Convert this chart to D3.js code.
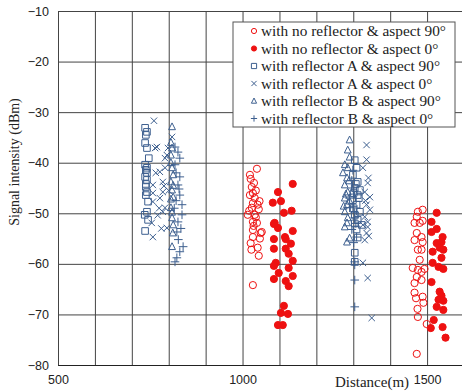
<!DOCTYPE html>
<html>
<head>
<meta charset="utf-8">
<script src="https://cdn.jsdelivr.net/npm/d3@7"></script>
<style>
body{margin:0;background:#fff;}
svg{display:block;}
</style>
</head>
<body>
<div id="chart"></div>
<script>
// tick values
var xTicks=[500,600,700,800,900,1000,1100,1200,1300,1400,1500,1600];
var xLabels=[500,1000,1500];
var yTicks=[-10,-20,-30,-40,-50,-60,-70,-80];

var legendNames=["with no reflector & aspect 90°","with no reflector & aspect 0°",
	"with reflector A & aspect 90°","with reflector A & aspect 0°",
	"with reflector B & aspect 90°","with reflector B & aspect 0°"];

// [distance m, signal dBm]
var noRef90=[[1039,-41.2],[1020,-42.4],[1022,-43.2],[1025,-44.8],[1028,-46.0],[1020,-46.4],[1033,-47.0],
	[1028,-48.0],[1041,-48.3],[1025,-48.9],[1014,-50.3],[1033,-50.3],[1028,-51.7],[1039,-51.9],[1028,-53.3],
	[1052,-53.7],[1028,-54.7],[1022,-55.9],[1041,-56.8],[1044,-58.4],[1028,-64.2],[1049,-53.9],[1031,-44.0],
	[1036,-45.5],[1046,-47.6],[1018,-49.5],[1036,-50.8],[1044,-49.2],[1030,-52.5],[1047,-55.0],[1024,-57.2],
	[1488,-49.3],[1475,-49.7],[1472,-50.7],[1466,-51.9],[1480,-51.9],[1488,-51.5],[1472,-53.9],[1485,-54.7],
	[1466,-55.3],[1488,-55.7],[1475,-57.2],[1485,-57.2],[1480,-59.2],[1461,-60.8],[1475,-61.2],[1485,-61.6],
	[1493,-61.0],[1472,-62.6],[1485,-63.2],[1466,-63.8],[1466,-65.7],[1488,-66.5],[1470,-66.8],[1490,-67.7],
	[1474,-68.9],[1475,-70.5],[1499,-71.9],[1472,-77.8]];
var noRef0=[[1136,-44.2],[1096,-45.8],[1082,-47.9],[1104,-47.6],[1133,-49.5],[1112,-49.9],[1087,-51.9],
	[1096,-52.9],[1136,-53.5],[1115,-54.7],[1085,-52.1],[1085,-55.1],[1117,-55.1],[1131,-56.0],[1085,-57.0],
	[1117,-57.0],[1125,-58.0],[1136,-59.4],[1090,-59.8],[1085,-60.4],[1125,-60.8],[1098,-61.8],[1136,-62.4],
	[1085,-63.0],[1117,-63.4],[1125,-64.4],[1112,-68.3],[1104,-69.7],[1123,-69.9],[1096,-72.1],[1109,-72.1],
	[1526,-49.9],[1512,-51.7],[1526,-53.1],[1512,-53.7],[1542,-54.7],[1526,-55.9],[1539,-55.7],[1534,-56.8],
	[1515,-57.6],[1544,-57.2],[1539,-58.8],[1515,-59.8],[1531,-60.6],[1544,-61.0],[1512,-63.6],[1534,-65.5],
	[1539,-66.3],[1531,-67.1],[1544,-67.3],[1526,-68.5],[1544,-69.1],[1518,-71.1],[1542,-72.5],[1510,-72.7],
	[1550,-74.6]];
var refA90=[[736,-33.1],[741,-33.9],[738,-34.5],[736,-36.1],[741,-37.1],[746,-39.1],[736,-40.4],[738,-41.4],
	[741,-42.0],[736,-42.8],[741,-43.4],[738,-44.8],[741,-45.8],[738,-46.4],[744,-47.7],[741,-49.7],[735,-50.3],
	[744,-51.3],[736,-53.5],[738,-44.2],[741,-41.0],
	[1304,-39.5],[1309,-41.0],[1299,-42.4],[1312,-43.8],[1304,-45.0],[1312,-46.4],[1299,-47.4],[1309,-48.3],
	[1318,-49.7],[1304,-50.3],[1312,-51.3],[1323,-52.3],[1304,-57.8],[1304,-59.6],[1307,-44.2],[1301,-46.0],
	[1315,-47.0],[1301,-49.0],[1309,-53.2],[1312,-54.8],[1304,-52.0],[1318,-45.4]];
var refA0=[[760,-31.7],[763,-37.1],[768,-36.9],[790,-39.1],[790,-41.0],[776,-41.8],[757,-44.4],[757,-46.0],
	[757,-47.7],[784,-43.8],[784,-45.8],[790,-48.9],[784,-49.7],[754,-51.9],[757,-54.7],[795,-52.9],[809,-34.9],
	[798,-37.1],[795,-38.5],[776,-47.0],[770,-50.4],[780,-53.0],[787,-44.6],[800,-45.5],[765,-42.0],[774,-49.0],
	[1336,-36.5],[1336,-39.4],[1326,-41.0],[1339,-44.0],[1331,-45.8],[1345,-46.8],[1336,-48.3],[1345,-49.3],
	[1331,-50.7],[1339,-51.7],[1326,-52.3],[1331,-55.3],[1326,-59.8],[1339,-62.8],[1339,-52.7],[1336,-53.9],
	[1350,-70.7],[1341,-43.0],[1333,-47.5],[1342,-54.5]];
var refB90=[[809,-32.9],[809,-37.1],[806,-38.5],[809,-41.0],[812,-42.4],[806,-43.8],[809,-45.4],[812,-46.8],
	[806,-48.9],[809,-50.9],[812,-52.3],[809,-56.6],[806,-40.0],[812,-44.5],[806,-47.2],[811,-53.9],[809,-49.8],
	[806,-36.0],
	[1290,-35.5],[1285,-37.5],[1290,-38.9],[1277,-40.4],[1285,-41.0],[1272,-42.0],[1283,-43.0],[1277,-44.4],
	[1285,-45.8],[1277,-47.0],[1283,-48.3],[1277,-49.7],[1285,-50.9],[1283,-51.9],[1277,-52.7],[1290,-54.9],
	[1283,-55.7],[1280,-46.2],[1288,-43.6],[1274,-48.6],[1290,-47.6]];
var refB0=[[817,-36.9],[825,-37.9],[830,-39.1],[817,-40.4],[830,-42.8],[825,-44.4],[830,-46.4],[836,-48.3],
	[836,-50.3],[825,-51.7],[822,-53.7],[839,-56.6],[830,-57.6],[822,-58.8],[817,-59.6],[820,-42.0],[828,-45.2],
	[820,-47.5],[833,-53.0],[826,-55.2],[815,-49.0],
	[1299,-45.0],[1290,-47.0],[1290,-48.9],[1304,-50.9],[1299,-48.7],[1304,-49.9],[1309,-54.7],[1304,-59.6],
	[1304,-60.2],[1304,-63.2],[1304,-68.5],[1296,-43.5],[1301,-46.2],[1307,-52.0],[1296,-53.2],[1301,-55.8],
	[1299,-41.5]];

var red="#ee1111",blue="#3d5f8f";
var W=462,H=392;
var margin={left:58,top:11};
var plotW=406,plotH=354;

var svg=d3.select("#chart").append("svg")
	.attr("width",W)
	.attr("height",H);

var x=d3.scaleLinear().domain([500,1600]).range([margin.left,margin.left+plotW]);
var y=d3.scaleLinear().domain([-80,-10]).range([margin.top+plotH,margin.top]);

// grid + axes
svg.append("g")
	.attr("class","yaxis")
	.attr("transform","translate("+margin.left+",0)")
	.call(d3.axisLeft(y).tickValues(yTicks).tickSize(-plotW).tickPadding(9));
svg.append("g")
	.attr("class","xaxis")
	.attr("transform","translate(0,"+(margin.top+plotH)+")")
	.call(d3.axisBottom(x).tickValues(xTicks).tickSize(-plotH).tickPadding(10)
		.tickFormat(function(d){return xLabels.indexOf(d)>=0?d:"";}));

svg.selectAll(".tick line").attr("stroke","#444").attr("stroke-width",1);
svg.selectAll(".domain").attr("stroke","#222");
svg.selectAll(".tick text")
	.attr("fill","#222")
	.style("font-family","'Liberation Sans',Arial,sans-serif")
	.style("font-size","12.5px");

// markers
function shapePath(kind,s){
	if(kind=="circle")
		return "M"+(-s)+",0A"+s+","+s+" 0 1,0 "+s+",0A"+s+","+s+" 0 1,0 "+(-s)+",0Z";
	if(kind=="square")
		return "M"+(-s)+","+(-s)+"H"+s+"V"+s+"H"+(-s)+"Z";
	if(kind=="triangle")
		return "M0,"+(-s*1.15)+"L"+s+","+(s*0.85)+"L"+(-s)+","+(s*0.85)+"Z";
	if(kind=="cross")
		return "M"+(-s)+","+(-s)+"L"+s+","+s+"M"+(-s)+","+s+"L"+s+","+(-s);
	return "M"+(-s*1.2)+",0H"+(s*1.2)+"M0,"+(-s*1.2)+"V"+(s*1.2);
}

var series=[
	{data:noRef90,kind:"circle",color:red,fill:"none",size:3.6},
	{data:noRef0,kind:"circle",color:red,fill:red,size:3.6},
	{data:refA90,kind:"square",color:blue,fill:"none",size:3.3},
	{data:refA0,kind:"cross",color:blue,fill:"none",size:3.2},
	{data:refB90,kind:"triangle",color:blue,fill:"none",size:3.4},
	{data:refB0,kind:"plus",color:blue,fill:"none",size:3.6}
];

series.forEach(function(s){
	svg.append("g")
		.selectAll("path")
		.data(s.data)
		.enter()
		.append("path")
		.attr("transform",function(d){return "translate("+x(d[0])+","+y(d[1])+")";})
		.attr("d",shapePath(s.kind,s.size))
		.attr("fill",s.fill)
		.attr("stroke",s.color)
		.attr("stroke-width",1);
});

// legend
var legend=svg.append("g").attr("transform","translate(233,22)");
legend.append("rect")
	.attr("width",222)
	.attr("height",105)
	.attr("fill","#fff")
	.attr("stroke","#555")
	.attr("stroke-width",1);
var row=legend.selectAll("g.row")
	.data(series)
	.enter()
	.append("g")
	.attr("class","row")
	.attr("transform",function(d,i){return "translate(0,"+(9+i*17.5)+")";});
row.append("path")
	.attr("transform","translate(21,0)")
	.attr("d",function(d){return shapePath(d.kind,2.6);})
	.attr("fill",function(d){return d.fill;})
	.attr("stroke",function(d){return d.color;})
	.attr("stroke-width",1);
row.append("text")
	.attr("x",28)
	.attr("y",5)
	.text(function(d,i){return legendNames[i];})
	.attr("fill","#222")
	.style("font-family","'Liberation Serif','Times New Roman',serif")
	.style("font-size","15.3px");

// axis titles
svg.append("text")
	.attr("transform","translate(19,162) rotate(-90)")
	.attr("text-anchor","middle")
	.text("Signal intensity (dBm)")
	.attr("fill","#222")
	.style("font-family","'Liberation Serif','Times New Roman',serif")
	.style("font-size","14px");
svg.append("text")
	.attr("x",372)
	.attr("y",387)
	.attr("text-anchor","middle")
	.text("Distance(m)")
	.attr("fill","#222")
	.style("font-family","'Liberation Serif','Times New Roman',serif")
	.style("font-size","15px");
</script>
</body>
</html>
